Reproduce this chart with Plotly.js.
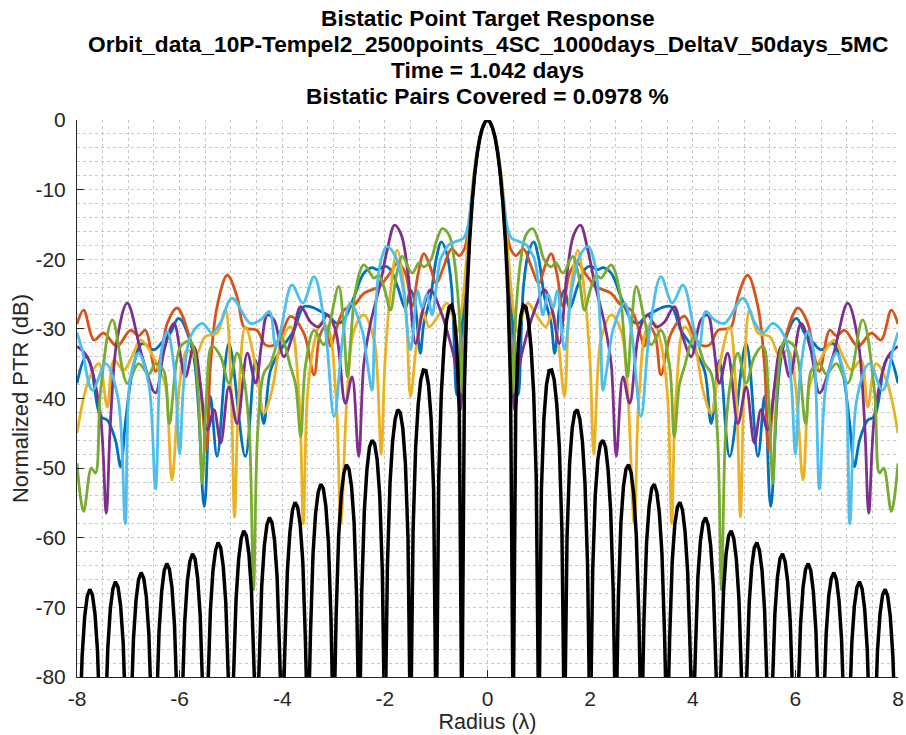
<!DOCTYPE html>
<html>
<head>
<meta charset="utf-8">
<script src="https://cdn.plot.ly/plotly-3.0.1.min.js"></script>
<style>html,body{margin:0;padding:0;background:#fff;}#chart{width:906px;height:735px;}</style>
</head>
<body>
<div id="chart"></div>
<script>
// ---- data (right half, radius >= 0; the response is symmetric about 0) ----
const titleLines = [
  "Bistatic Point Target Response",
  "Orbit_data_10P-Tempel2_2500points_4SC_1000days_DeltaV_50days_5MC",
  "Time = 1.042 days",
  "Bistatic Pairs Covered = 0.0978 %"
];
const xTickVals = [-8, -6, -4, -2, 0, 2, 4, 6, 8];
const yTickVals = [-80, -70, -60, -50, -40, -30, -20, -10, 0];

const blueX = [0,0.1,0.2,0.3,0.4,0.5,0.6,0.7,0.8,0.9,1.0,1.11,1.24,1.31,1.42,1.5,1.6,1.75,1.89,2.0,2.15,2.25,2.41,2.6,2.8,2.93,3.12,3.25,3.38,3.58,3.77,4.03,4.23,4.36,4.52,4.72,5.04,5.27,5.40,5.52,5.75,6.02,6.18,6.35,6.5,6.73,6.89,7.05,7.15,7.25,7.41,7.54,7.74,7.83,8.0];
const blueY = [0,-1.2,-4.8,-11.5,-21,-30,-39.5,-24,-19,-17.5,-20,-25.4,-29.2,-33.5,-26,-24.4,-27,-24,-21.5,-21,-21.5,-21.2,-22,-25.4,-28.7,-29.2,-28,-27.5,-27,-26.8,-30.2,-33,-36,-43.6,-34.5,-48.3,-32.1,-48.3,-39.7,-55.5,-33,-28.5,-30.6,-32,-33,-32.1,-35,-43,-49.8,-46,-43.1,-42.6,-35,-34,-37.8];

const orangeX = [0,0.1,0.2,0.3,0.4,0.45,0.55,0.7,0.85,1.0,1.12,1.24,1.35,1.47,1.6,1.75,1.9,2.0,2.1,2.41,2.6,2.8,2.99,3.06,3.16,3.27,3.38,3.58,3.84,4.03,4.16,4.33,4.49,4.65,4.75,4.88,5.07,5.27,5.40,5.48,5.6,5.79,6.05,6.24,6.37,6.47,6.67,6.8,6.96,7.22,7.48,7.67,7.87,8.0];
const orangeY = [0,-1.2,-4.8,-11.5,-17,-18.5,-19.5,-18.5,-21,-23.5,-21,-19.2,-22,-26.8,-22,-20.5,-22,-23,-23.9,-24.9,-26.6,-27.3,-31.1,-32.5,-29.7,-31,-36.6,-30.6,-28.2,-31.1,-32.3,-32.3,-30.2,-30,-29.7,-25.4,-22.3,-26.8,-35.4,-47.4,-38,-31.6,-27,-29.2,-34,-36.1,-30.2,-31,-30.2,-32.5,-30.6,-31.6,-27.3,-29.3];

const yellowX = [0,0.1,0.2,0.3,0.4,0.5,0.6,0.68,0.79,0.95,1.14,1.26,1.38,1.5,1.6,1.76,1.88,2.0,2.07,2.15,2.21,2.41,2.6,2.73,2.86,2.95,3.12,3.25,3.38,3.51,3.59,3.67,3.84,4.03,4.2,4.36,4.5,4.72,4.85,4.93,5.0,5.11,5.27,5.5,5.7,5.85,6.0,6.15,6.28,6.4,6.55,6.76,6.93,7.09,7.28,7.41,7.57,7.77,8.0];
const yellowY = [0,-1,-4.2,-10,-19,-27,-30.5,-28,-26.3,-28,-29.7,-27.5,-32,-39.7,-26,-18.7,-24,-35,-48,-36,-31.6,-28,-30.2,-38.8,-58,-40,-29.7,-29.2,-32.1,-39.7,-58,-40,-29.7,-32.1,-38.8,-42.1,-36,-29.7,-40,-57,-38,-27.3,-30.6,-31.1,-34,-33,-38,-51.7,-38,-35.9,-33.5,-31.6,-34,-35.9,-34.5,-41.2,-35,-37.3,-45];

const purpleX = [0,0.1,0.2,0.3,0.4,0.48,0.53,0.6,0.72,0.92,1.11,1.25,1.4,1.55,1.68,1.81,1.95,2.09,2.28,2.41,2.51,2.64,2.77,2.96,3.12,3.29,3.45,3.64,3.8,3.97,4.16,4.29,4.4,4.52,4.68,4.88,5.04,5.2,5.33,5.46,5.72,5.89,6.11,6.3,6.47,6.73,7.02,7.22,7.35,7.43,7.55,7.8,8.0];
const purpleY = [0,-1.2,-4.8,-12,-23,-35,-41.6,-36,-32.1,-27.3,-24.4,-27,-32.1,-22,-16.5,-15.1,-18.5,-23.5,-29.2,-35,-48.3,-36.9,-40.7,-30.2,-28,-29.7,-29,-26.8,-31,-34,-28.7,-28,-32,-37.8,-33.5,-43.6,-38.3,-46.4,-41.6,-44.5,-32.5,-36.9,-29.2,-33,-39.2,-34,-26.3,-31.6,-43.6,-56.5,-42,-34,-32.5];

const greenX = [0,0.1,0.2,0.3,0.4,0.46,0.49,0.55,0.65,0.75,0.88,1.0,1.1,1.24,1.33,1.47,1.66,1.78,1.89,2.0,2.12,2.21,2.41,2.57,2.66,2.73,2.8,2.9,3.06,3.19,3.38,3.55,3.64,3.74,3.84,4.03,4.23,4.36,4.48,4.56,4.64,4.75,4.88,5.04,5.2,5.37,5.48,5.56,5.65,5.79,5.98,6.2,6.31,6.47,6.6,6.8,7.02,7.31,7.54,7.64,7.72,7.87,8.0];
const greenY = [0,-1.2,-4.8,-12,-24,-33,-39.3,-28,-20,-16.5,-15.6,-17.5,-20,-21.1,-20.5,-22,-19.6,-22.5,-27.3,-24.5,-22.3,-22.7,-20.8,-24.4,-31,-36.9,-30,-23.9,-28.7,-32.3,-30.2,-35.4,-45.5,-38,-35.4,-31.1,-35,-36.4,-45,-67.5,-45,-37,-33.5,-37.8,-34,-32.5,-40,-52.2,-38,-31.8,-32.5,-43.6,-36,-35,-36.5,-35,-37.8,-28.7,-38.8,-50.7,-50,-56.2,-49.3];

const lightBlueX = [0,0.1,0.2,0.3,0.4,0.47,0.6,0.75,0.85,0.92,1.0,1.08,1.18,1.28,1.36,1.5,1.65,1.8,1.96,2.1,2.2,2.25,2.34,2.45,2.67,2.8,2.99,3.16,3.38,3.6,3.81,4.03,4.13,4.25,4.42,4.62,4.98,5.2,5.37,5.56,5.79,5.92,6.0,6.1,6.24,6.35,6.47,6.6,6.8,6.96,7.06,7.2,7.44,7.7,7.9,8.0];
const lightBlueY = [0,-1.2,-4.6,-10.8,-15.8,-17,-17.4,-17.9,-19,-20.1,-24,-28,-25,-27,-24.5,-33,-24,-19.5,-18.2,-21,-30,-38.8,-35,-30,-26.3,-30,-42.6,-30.2,-22.5,-26.3,-23.7,-30.2,-32.5,-27.5,-28.7,-29.2,-25.6,-29,-30.6,-29.2,-31.1,-37.8,-48,-36,-30.4,-33,-53,-38,-33.5,-37,-58,-40,-35,-38.8,-33,-30.5];

// ideal (reference) response, sampled every 0.05 lambda from 0 to 8
const idealStep = 0.05;
const idealY = [
  0,-0.3,-1.2,-2.6,-4.8,-7.8,-11.9,-17.4,-25.2,-38.4,-88,
  -41.9,-32.1,-28.1,-26.6,-26.9,-28.9,-32.8,-39.3,-51.4,-90,
  -53.2,-42.8,-38.0,-36.0,-35.9,-37.3,-40.8,-47.0,-58.8,-90,
  -59.9,-49.3,-44.3,-42.0,-41.6,-43.0,-46.2,-52.2,-63.9,-90,
  -64.7,-53.9,-48.8,-46.5,-46.0,-47.0,-50.2,-56.1,-67.7,-90,
  -68.6,-57.8,-52.6,-50.1,-49.5,-50.7,-53.8,-59.7,-71.2,-90,
  -71.6,-60.7,-55.5,-52.9,-52.3,-53.5,-56.5,-62.3,-73.8,-90,
  -74.4,-63.4,-58.1,-55.6,-54.9,-56.0,-59.1,-64.8,-76.2,-90,
  -76.7,-65.7,-60.4,-57.8,-57.1,-58.2,-61.2,-66.9,-78.3,-90,
  -78.7,-67.6,-62.3,-59.7,-59.0,-60.1,-63.1,-68.8,-80.1,-90,
  -80.4,-69.4,-64.1,-61.4,-60.7,-61.8,-64.7,-70.4,-81.8,-90,
  -82.1,-71.0,-65.7,-63.0,-62.3,-63.4,-66.3,-72.0,-83.3,-90,
  -83.6,-72.5,-67.1,-64.5,-63.7,-64.7,-67.7,-73.3,-84.6,-90,
  -84.9,-73.8,-68.4,-65.8,-65.0,-66.0,-69.0,-74.6,-85.9,-90,
  -86.2,-75.1,-69.8,-67.1,-66.3,-67.3,-70.2,-75.9,-87.2,-90,
  -87.4,-76.3,-70.9,-68.2,-67.4,-68.4,-71.3,-77.0,-88.2,-90
];

// ---- build symmetric series ----
function mirror(xs, ys) {
  const X = [], Y = [];
  for (let i = xs.length - 1; i > 0; i--) { X.push(-xs[i]); Y.push(ys[i]); }
  for (let i = 0; i < xs.length; i++) { X.push(xs[i]); Y.push(ys[i]); }
  return {X, Y};
}
const idealX = idealY.map((_, i) => +(i * idealStep).toFixed(2));

const FONT = 'Liberation Sans, Arial, Helvetica, sans-serif';
function curve(xs, ys, color, width, shape) {
  const m = mirror(xs, ys);
  return {x: m.X, y: m.Y, type: 'scatter', mode: 'lines', hoverinfo: 'skip',
    line: {color: color, width: width, shape: shape, smoothing: 1.0, simplify: false}};
}
const traces = [
  curve(blueX, blueY, '#0072BD', 2.8, 'spline'),
  curve(orangeX, orangeY, '#D95319', 2.8, 'spline'),
  curve(yellowX, yellowY, '#EDB120', 2.8, 'spline'),
  curve(purpleX, purpleY, '#7E2F8E', 2.8, 'spline'),
  curve(greenX, greenY, '#77AC30', 2.8, 'spline'),
  curve(lightBlueX, lightBlueY, '#4DBEEE', 2.8, 'spline'),
  curve(idealX, idealY, '#000000', 3.5, 'linear')
];

// title lines as centred annotations (pixel rows converted to paper units)
const plotTop = 120, plotBottom = 677;
const titleRows = [18, 44, 70, 96];
const annotations = titleLines.map((t, i) => ({
  text: '<b>' + t + '</b>', showarrow: false,
  xref: 'paper', x: 0.5, xanchor: 'center',
  yref: 'paper', y: (plotBottom - titleRows[i]) / (plotBottom - plotTop), yanchor: 'middle',
  font: {family: FONT, size: 22.7, color: '#000000'}
}));

const gridCol = '#c8c8c8';
const layout = {
  width: 906, height: 735,
  margin: {l: 77, r: 8, t: 120, b: 58},
  paper_bgcolor: '#ffffff', plot_bgcolor: '#ffffff',
  showlegend: false,
  font: {family: FONT, color: '#262626'},
  annotations: annotations,
  xaxis: {
    range: [-8, 8], tickvals: xTickVals, ticktext: xTickVals.map(String),
    ticks: 'inside', ticklen: 7, tickcolor: '#262626', tickwidth: 1,
    showline: true, linecolor: '#262626', linewidth: 1, mirror: false,
    zeroline: false,
    showgrid: true, gridcolor: gridCol, griddash: 'dot', gridwidth: 1,
    minor: {dtick: 0.5, showgrid: true, gridcolor: gridCol, griddash: 'dot', gridwidth: 1, ticks: ''},
    tickfont: {family: FONT, size: 21, color: '#262626'},
    ticklabelstandoff: 3,
    title: {text: 'Radius (λ)', font: {family: FONT, size: 21.5, color: '#262626'}, standoff: 3}
  },
  yaxis: {
    range: [-80, 0], tickvals: yTickVals, ticktext: yTickVals.map(String),
    ticks: 'inside', ticklen: 7, tickcolor: '#262626', tickwidth: 1,
    showline: true, linecolor: '#262626', linewidth: 1, mirror: false,
    zeroline: false,
    showgrid: true, gridcolor: gridCol, griddash: 'dot', gridwidth: 1,
    minor: {dtick: 2, showgrid: true, gridcolor: gridCol, griddash: 'dot', gridwidth: 1, ticks: ''},
    tickfont: {family: FONT, size: 21, color: '#262626'},
    ticklabelstandoff: 6,
    title: {text: 'Normalized PTR (dB)', font: {family: FONT, size: 22, color: '#262626'}, standoff: 0}
  }
};

Plotly.newPlot('chart', traces, layout, {staticPlot: true, displayModeBar: false});
</script>
</body>
</html>
